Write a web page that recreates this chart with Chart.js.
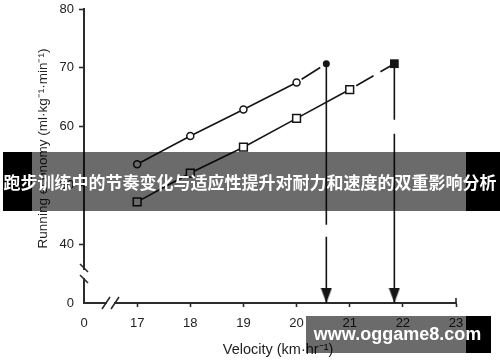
<!DOCTYPE html>
<html>
<head>
<meta charset="utf-8">
<script src="https://cdn.jsdelivr.net/npm/chart.js@4.4.0/dist/chart.umd.min.js"></script>
<style>
    html, body { margin: 0; padding: 0; background: #fff; }
    #wrap { position: relative; width: 500px; height: 362px; overflow: hidden; }
    #chart { position: absolute; left: 0; top: 0; }
    .blk { position: absolute; background: #000; }
    .gry { position: absolute; background: rgba(0, 0, 0, 0.58); }
    #bandText {
        position: absolute; left: 0; top: 152px; width: 500px; height: 59px;
        display: flex; align-items: center; justify-content: center;
        color: #fff; font: bold 17px "Noto Sans CJK SC", sans-serif; white-space: nowrap;
    }
    #markText {
        position: absolute; left: 306px; top: 316px; width: 183px; height: 37px;
        display: flex; align-items: center; justify-content: center;
        color: #fff; font: bold 18px "Liberation Sans", sans-serif; white-space: nowrap;
    }
</style>
</head>
<body>
<div id="wrap">
    <canvas id="chart" width="500" height="362"></canvas>
    <!-- title banner -->
    <div class="blk" style="left:3px; top:152px; width:29px; height:59px;"></div>
    <div class="gry" style="left:32px; top:152px; width:434px; height:59px;"></div>
    <div class="blk" style="left:466px; top:152px; width:34px; height:59px;"></div>
    <div id="bandText">跑步训练中的节奏变化与适应性提升对耐力和速度的双重影响分析</div>
    <!-- site watermark -->
    <div class="gry" style="left:306px; top:316px; width:160px; height:37px;"></div>
    <div class="blk" style="left:466px; top:316px; width:25px; height:37px;"></div>
    <div id="markText">www.oggame8.com</div>
</div>
<script>
// velocity (km/h) and running economy readings
var velocityCircle = [17, 18, 19, 20];
var economyCircle = [53.6, 58.4, 62.9, 67.5];
var velocitySquare = [17, 18, 19, 20, 21];
var economySquare = [47.2, 52.1, 56.5, 61.4, 66.3];
// extrapolated end points (filled markers) and the velocities they drop to
var peakVelocity = [20.56, 21.84];
var peakEconomy = [70.7, 70.7];

// axis ticks (the lowest tick of each axis sits after a break and reads 0)
var xTickValues = [16, 17, 18, 19, 20, 21, 22, 23];
var xTickLabels = ['0', '17', '18', '19', '20', '21', '22', '23'];
var yTickValues = [30, 40, 50, 60, 70, 80];
var yTickLabels = ['0', '40', '50', '60', '70', '80'];

var INK = '#151515';
var AXIS = '#2b2b2b';
var NB = '\u00a0';

function pts(xs, ys) {
    return xs.map(function (x, i) { return {x: x, y: ys[i]}; });
}

// arrow head as a small canvas, tip at the image centre
function makeArrowHead() {
    var c = document.createElement('canvas');
    c.width = 12;
    c.height = 30;
    var g = c.getContext('2d');
    g.fillStyle = INK;
    g.beginPath();
    g.moveTo(0.5, 0);
    g.lineTo(11.5, 0);
    g.lineTo(6, 15);
    g.closePath();
    g.fill();
    return c;
}
var arrowHead = makeArrowHead();

var lastC = velocityCircle.length - 1;
var lastS = velocitySquare.length - 1;

var datasets = [
    {   // open circles
        data: pts(velocityCircle, economyCircle),
        showLine: true, borderColor: INK, borderWidth: 1.6,
        pointStyle: 'circle', pointRadius: 3.5, pointBorderWidth: 1.5,
        pointBackgroundColor: '#fff', pointBorderColor: INK, order: 1
    },
    {   // dashed extrapolation, circles
        data: [{x: velocityCircle[lastC], y: economyCircle[lastC]}, {x: peakVelocity[0], y: peakEconomy[0]}],
        showLine: true, borderColor: INK, borderWidth: 1.6,
        borderDash: [22, 6], borderDashOffset: 22, pointRadius: 0, order: 3
    },
    {   // drop line, circles
        data: [{x: peakVelocity[0], y: peakEconomy[0]}, {x: peakVelocity[0], y: yTickValues[0]}],
        showLine: true, borderColor: INK, borderWidth: 1.6,
        borderDash: [161, 12], pointRadius: 0, order: 3
    },
    {   // filled circle
        data: [{x: peakVelocity[0], y: peakEconomy[0]}],
        pointStyle: 'circle', pointRadius: 3.5, pointBorderWidth: 0,
        pointBackgroundColor: INK, order: 0
    },
    {   // open squares
        data: pts(velocitySquare, economySquare),
        showLine: true, borderColor: INK, borderWidth: 1.6,
        pointStyle: 'rect', pointRadius: 5.5, pointBorderWidth: 1.5,
        pointBackgroundColor: '#fff', pointBorderColor: INK, order: 1
    },
    {   // dashed extrapolation, squares
        data: [{x: velocitySquare[lastS], y: economySquare[lastS]}, {x: peakVelocity[1], y: peakEconomy[1]}],
        showLine: true, borderColor: INK, borderWidth: 1.6,
        borderDash: [20, 8], borderDashOffset: 20.5, pointRadius: 0, order: 3
    },
    {   // drop line, squares
        data: [{x: peakVelocity[1], y: peakEconomy[1]}, {x: peakVelocity[1], y: yTickValues[0]}],
        showLine: true, borderColor: INK, borderWidth: 1.6,
        borderDash: [56, 14, 400], pointRadius: 0, order: 3
    },
    {   // filled square
        data: [{x: peakVelocity[1], y: peakEconomy[1]}],
        pointStyle: 'rect', pointRadius: 6.2, pointBorderWidth: 0,
        pointBackgroundColor: INK, order: 0
    },
    {   // arrow heads on the velocity axis
        data: pts(peakVelocity, [yTickValues[0], yTickValues[0]]),
        pointStyle: arrowHead, pointRadius: 8, order: 0
    }
];
datasets.forEach(function (d) { d.clip = false; });

// axis break marks and the small hook at the end of the velocity axis
var axisBreaks = {
    id: 'axisBreaks',
    afterDraw: function (chart) {
        var ctx = chart.ctx;
        var a = chart.chartArea;
        var x0 = a.left, y0 = a.bottom;
        ctx.save();
        ctx.strokeStyle = '#fff';
        ctx.lineWidth = 4;
        ctx.beginPath();
        ctx.moveTo(x0, y0 - 33); ctx.lineTo(x0, y0 - 25);
        ctx.moveTo(x0 + 23, y0); ctx.lineTo(x0 + 30, y0);
        ctx.stroke();
        ctx.strokeStyle = AXIS;
        ctx.lineWidth = 1.6;
        ctx.beginPath();
        [y0 - 35, y0 - 24].forEach(function (y) {
            ctx.moveTo(x0 - 4, y - 4); ctx.lineTo(x0 + 4, y + 4);
        });
        [x0 + 22, x0 + 31].forEach(function (x) {
            ctx.moveTo(x - 4, y0 + 6); ctx.lineTo(x + 4, y0 - 6);
        });
        ctx.moveTo(a.right, y0); ctx.lineTo(a.right, y0 - 5);
        ctx.stroke();
        ctx.restore();
    }
};

function tickColor(hidden) {
    return function (c) { return c.tick && c.tick.value === hidden ? 'rgba(0,0,0,0)' : AXIS; };
}

new Chart(document.getElementById('chart'), {
    type: 'scatter',
    data: {datasets: datasets},
    plugins: [axisBreaks],
    options: {
        responsive: false,
        animation: false,
        events: [],
        layout: {padding: {top: 7, right: 44, left: 0, bottom: 0}},
        plugins: {legend: {display: false}, tooltip: {enabled: false}},
        scales: {
            x: {
                type: 'linear', min: 16, max: 23,
                afterFit: function (s) { s.height = 59; s.paddingLeft = 0; s.paddingRight = 0; },
                afterBuildTicks: function (s) { s.ticks = xTickValues.map(function (v) { return {value: v}; }); },
                ticks: {
                    padding: 9, color: '#222', maxRotation: 0,
                    font: {family: 'Liberation Sans', size: 13},
                    callback: function (v) { var i = xTickValues.indexOf(v); return i < 0 ? '' : xTickLabels[i]; }
                },
                grid: {drawOnChartArea: false, drawTicks: true, tickLength: 4, tickWidth: 1.6, tickColor: tickColor(16)},
                border: {display: true, color: AXIS, width: 2},
                title: {
                    display: true, text: NB.repeat(4) + 'Velocity (km·hr⁻¹)', color: '#222',
                    font: {family: 'Liberation Sans', size: 14.5}, padding: {top: 0, bottom: 3}
                }
            },
            y: {
                type: 'linear', min: 30, max: 80,
                afterFit: function (s) { s.width = 84; s.paddingTop = 0; s.paddingBottom = 0; },
                afterBuildTicks: function (s) { s.ticks = yTickValues.map(function (v) { return {value: v}; }); },
                ticks: {
                    padding: 5, color: '#222',
                    font: {family: 'Liberation Sans', size: 13},
                    callback: function (v) { var i = yTickValues.indexOf(v); return i < 0 ? '' : yTickLabels[i]; }
                },
                grid: {drawOnChartArea: false, drawTicks: true, tickLength: 5, tickWidth: 1.6, tickColor: tickColor(30)},
                border: {display: true, color: AXIS, width: 2},
                title: {
                    display: true, text: NB.repeat(4) + 'Running economy (ml·kg⁻¹·min⁻¹)', color: '#222',
                    font: {family: 'Liberation Sans', size: 13.5}, padding: {top: 35, bottom: 0}
                }
            }
        }
    }
});
</script>
</body>
</html>
